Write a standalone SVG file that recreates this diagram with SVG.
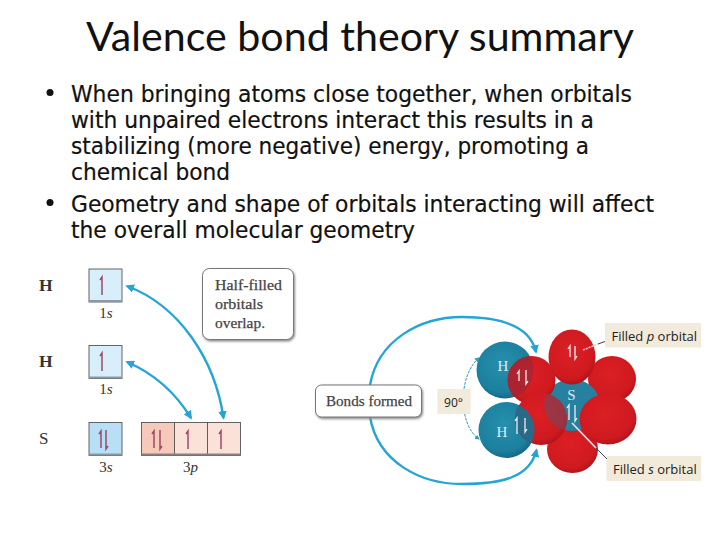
<svg xmlns="http://www.w3.org/2000/svg" width="720" height="540" viewBox="0 0 720 540">
<style>
.t{font-family:Lato,"Open Sans","Liberation Sans",sans-serif;fill:#111}
.b{font-family:"DejaVu Sans",sans-serif;font-size:22.300px;fill:#111;stroke:#111;stroke-width:.2}
.s{font-family:"Liberation Serif",serif;fill:#333}
.m{font-family:"Liberation Serif",serif;fill:#444;font-size:15px;stroke:#444;stroke-width:.25}
.c{font-family:"Open Sans","Liberation Sans",sans-serif;fill:#222;font-size:13px}
.conn{fill:none;stroke:#25a5d3;stroke-width:2.4}
.thin{fill:none;stroke:#3a9bb5;stroke-width:1;stroke-dasharray:3 1}
.up{fill:none;stroke:#a04a68;stroke-width:1.5}
.wup{fill:none;stroke:#eee;stroke-width:1.3}
.box{stroke:#555;stroke-width:.9}
.lab{fill:#f2eadb}
.call{fill:#fff;stroke:#777;stroke-width:1;filter:url(#sh)}
.atom{font-family:"Liberation Serif",serif;font-size:15px;fill:#dcEEf4;text-anchor:middle}
</style>
<defs>
<marker id="ah" viewBox="0 0 10 10" refX="8" refY="5" markerWidth="3.600" markerHeight="3.600" orient="auto-start-reverse"><path d="M0 0L10 5L0 10Z" fill="#25a5d3"/></marker>
<marker id="at" viewBox="0 0 10 10" refX="8" refY="5" markerWidth="5" markerHeight="5" orient="auto-start-reverse"><path d="M0 0L10 5L0 10Z" fill="#3a9bb5"/></marker>
<radialGradient id="red" cx=".45" cy=".4" r=".65"><stop offset="0" stop-color="#dc1f24"/><stop offset=".75" stop-color="#cf1a20"/><stop offset="1" stop-color="#a5141a"/></radialGradient>
<radialGradient id="blue" cx=".45" cy=".4" r=".65"><stop offset="0" stop-color="#2690ad"/><stop offset=".75" stop-color="#1c7f9e"/><stop offset="1" stop-color="#145f7c"/></radialGradient>
<filter id="sh" x="-10%" y="-10%" width="125%" height="125%"><feDropShadow dx="1" dy="1.5" stdDeviation="1.2" flood-color="#888"/></filter>
<clipPath id="hb"><circle cx="506.500" cy="430" r="28"/></clipPath>
<clipPath id="ht"><circle cx="505" cy="370" r="28.500"/></clipPath>
<clipPath id="sc"><ellipse cx="572" cy="405" rx="28" ry="26"/></clipPath>
</defs>

<g id="title"><text class="t" x="360" y="51" font-size="40" text-anchor="middle" textLength="548" lengthAdjust="spacingAndGlyphs">Valence bond theory summary</text></g>
<g id="bullets">
<circle cx="50" cy="92.500" r="3.500" fill="#111"/>
<text class="b" x="71" y="101.500" textLength="561" lengthAdjust="spacingAndGlyphs">When bringing atoms close together, when orbitals</text>
<text class="b" x="71" y="127.500" textLength="523" lengthAdjust="spacingAndGlyphs">with unpaired electrons interact this results in a</text>
<text class="b" x="71" y="153.500" textLength="518" lengthAdjust="spacingAndGlyphs">stabilizing (more negative) energy, promoting a</text>
<text class="b" x="71" y="179.500" textLength="159" lengthAdjust="spacingAndGlyphs">chemical bond</text>
<circle cx="50" cy="202.500" r="3.500" fill="#111"/>
<text class="b" x="71" y="211.500" textLength="583" lengthAdjust="spacingAndGlyphs">Geometry and shape of orbitals interacting will affect</text>
<text class="b" x="71" y="237.500" textLength="344" lengthAdjust="spacingAndGlyphs">the overall molecular geometry</text>
</g>

<g id="connectors">
<path class="conn" marker-start="url(#ah)" marker-end="url(#ah)" d="M127 286C180 306 215 360 223.500 418"/>
<path class="conn" marker-start="url(#ah)" marker-end="url(#ah)" d="M127 362C155 374 175 392 191 418"/>
<path class="conn" marker-end="url(#ah)" d="M370 385C378 340 420 317 462 317C500 317 530 325 536 352"/>
<path class="conn" marker-end="url(#ah)" d="M370 417C378 462 420 484 462 484C500 484 530 478 536.500 450"/>
<path class="thin" marker-start="url(#at)" marker-end="url(#at)" d="M479 358C458 375 458 425 479 439"/>
</g>

<g id="h1-row">
<text class="s" x="39" y="290.500" font-size="17.500" font-weight="bold">H</text>
<rect class="box" x="89" y="269" width="33" height="33" fill="#d9eefb"/><rect x="89" y="300" width="33" height="2" fill="#8a9aa5"/>
<path class="up" d="M100 280L102 277V295"/>
<text class="s" x="106" y="318" font-size="15" text-anchor="middle">1<tspan font-style="italic">s</tspan></text>
</g>
<g id="h2-row">
<text class="s" x="39" y="367" font-size="17.500" font-weight="bold">H</text>
<rect class="box" x="89" y="345.500" width="33" height="33" fill="#d9eefb"/><rect x="89" y="376.500" width="33" height="2" fill="#8a9aa5"/>
<path class="up" d="M100 356L102 353V371"/>
<text class="s" x="106" y="394" font-size="15" text-anchor="middle">1<tspan font-style="italic">s</tspan></text>
</g>
<g id="s-row">
<text class="s" x="39" y="444" font-size="17">S</text>
<rect class="box" x="89" y="422.500" width="33" height="33" fill="#b7dff5"/><rect x="89" y="453.500" width="33" height="2" fill="#8a9aa5"/>
<path class="up" d="M99 434L101 431V448M106 430V449L108 446"/>
<text class="s" x="106" y="471.500" font-size="15" text-anchor="middle">3<tspan font-style="italic">s</tspan></text>
<rect class="box" x="141.500" y="422.500" width="33" height="33" fill="#f6c9bb"/>
<rect class="box" x="174.500" y="422.500" width="33" height="33" fill="#fbe2d9"/>
<rect class="box" x="207.500" y="422.500" width="33" height="33" fill="#fbe2d9"/>
<rect x="141.500" y="453.500" width="99" height="2" fill="#8a8080"/>
<path class="up" d="M152 434L154 431V448M160 430V449L162 446M186 434L188 431V449M219 434L221 431V449"/>
<text class="s" x="190.500" y="471.500" font-size="15" text-anchor="middle">3<tspan font-style="italic">p</tspan></text>
</g>
<g id="callout-overlap">
<rect class="call" x="202.500" y="268.500" width="91" height="71" rx="7"/>
<text class="m" x="215" y="290" textLength="67" lengthAdjust="spacingAndGlyphs">Half-filled</text>
<text class="m" x="215" y="309" textLength="48" lengthAdjust="spacingAndGlyphs">orbitals</text>
<text class="m" x="215" y="328" textLength="50" lengthAdjust="spacingAndGlyphs">overlap.</text>
</g>
<g id="callout-bonds">
<rect class="call" x="315.500" y="385" width="106" height="32" rx="6"/>
<text class="m" x="326" y="406" textLength="86" lengthAdjust="spacingAndGlyphs">Bonds formed</text>
</g>
<g id="angle"><rect class="lab" x="437.500" y="389" width="33" height="25"/><text class="c" x="444" y="406.500" font-size="14" textLength="19" lengthAdjust="spacingAndGlyphs">90°</text></g>

<g id="molecule">
<circle cx="505" cy="370" r="28.500" fill="url(#blue)"/>
<circle cx="506.500" cy="430" r="28" fill="url(#blue)"/>
<ellipse cx="572.500" cy="449" rx="25.500" ry="24" fill="url(#red)"/>
<ellipse cx="612" cy="379" rx="24" ry="23" fill="url(#red)"/>
<ellipse cx="572" cy="405" rx="28" ry="26" fill="#26809f"/>
<ellipse cx="608" cy="419" rx="28.500" ry="25.500" fill="url(#red)"/>
<ellipse cx="531.500" cy="380" rx="24" ry="24" fill="url(#red)"/>
<ellipse cx="531.500" cy="380" rx="24" ry="24" fill="#8d2a3e" opacity=".55" clip-path="url(#ht)"/>
<ellipse cx="541" cy="419" rx="26" ry="26" fill="url(#red)"/>
<ellipse cx="541" cy="419" rx="26" ry="26" fill="#6e4a63" opacity=".55" clip-path="url(#sc)"/>
<ellipse cx="572" cy="357" rx="23.500" ry="27.500" fill="url(#red)"/>
<ellipse cx="541" cy="419" rx="26" ry="26" fill="#1f6f8e" opacity=".95" clip-path="url(#hb)"/>
<text class="atom" x="503" y="371">H</text>
<text class="atom" x="502" y="437">H</text>
<text class="atom" x="571.500" y="400">S</text>
<path class="wup" d="M519 381V371L517 374M526 370V384L528 381M517 434V418L515 421M525 418V432L527 429M569 420V405L567 408M575 405V421L577 418M570 357V346L568 349M575 346V359L577 356"/>
</g>

<g id="label-p">
<rect class="lab" x="605" y="323" width="96" height="24.500"/>
<text class="c" x="611.500" y="340.500">Filled <tspan font-style="italic">p</tspan> orbital</text>
<path d="M583 350L598 344" stroke="#e8c8c8" stroke-width="1.600" stroke-dasharray="2 1" fill="none"/>
<path d="M598 344L605 341.500" stroke="#444" stroke-width="1" fill="none"/>
</g>
<g id="label-s">
<rect class="lab" x="606.500" y="456" width="94.500" height="25"/>
<text class="c" x="613" y="473.500">Filled <tspan font-style="italic">s</tspan> orbital</text>
<path d="M572 423L596 448" stroke="#e6e6e6" stroke-width="1.600" fill="none"/>
<path d="M596 448L607 459" stroke="#444" stroke-width="1" fill="none"/>
</g>
</svg>
